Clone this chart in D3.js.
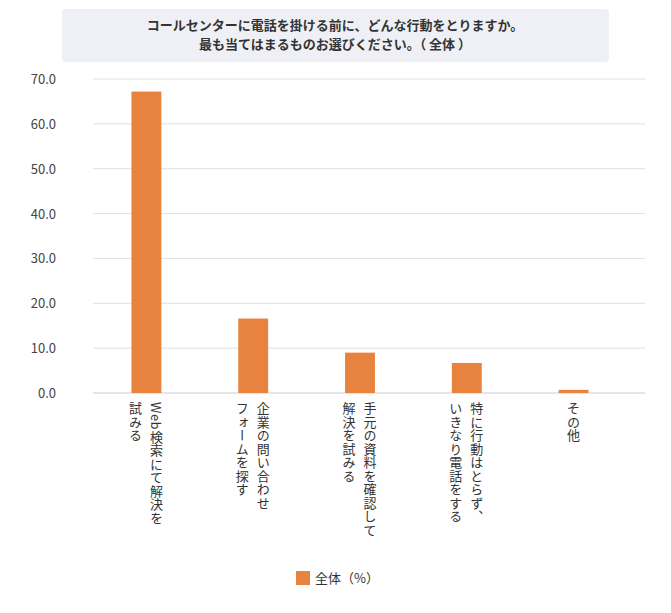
<!DOCTYPE html><html><head><meta charset="utf-8">
<script src="https://cdn.jsdelivr.net/npm/d3@7"></script>
<style>body{margin:0;background:#fff}text{font-family:"Noto Sans CJK JP","Noto Sans",sans-serif}</style></head><body>
<svg id="c" width="671" height="613"></svg>
<script>
const categories=[["Web検索にて解決を","試みる"],["企業の問い合わせ","フォームを探す"],["手元の資料を確認して","解決を試みる"],["特に行動はとらず、","いきなり電話をする"],["その他"]];
const values=[67.2,16.6,9.0,6.7,0.7];
const yTicks=[0,10,20,30,40,50,60,70];
const titleLines=["コールセンターに電話を掛ける前に、どんな行動をとりますか。","最も当てはまるものお選びください。（ 全体 ）"];
const legendLabel="全体（%）";
const svg=d3.select("#c");
svg.append("rect").attr("x",62).attr("y",9).attr("width",547).attr("height",53).attr("rx",4).attr("fill","#eef0f5");
titleLines.forEach((t,i)=>svg.append("text").attr("x",335).attr("y",30+i*19).attr("text-anchor","middle").attr("font-size",13).attr("font-weight","bold").attr("fill","#333").text(t));
const x=d3.scaleBand().domain(d3.range(5)).range([93,627]).paddingInner(0.72).paddingOuter(0.36);
const y=d3.scaleLinear().domain([0,70]).range([393,79]);
const g=svg.append("g");
yTicks.forEach(t=>{
  g.append("line").attr("x1",93).attr("x2",645).attr("y1",y(t)).attr("y2",y(t)).attr("stroke",t==0?"#ccc":"#e0e0e0");
  g.append("text").attr("x",56).attr("y",y(t)+5).attr("text-anchor","end").attr("font-size",13).attr("fill","#444").text(t.toFixed(1));
});
g.selectAll("rect.b").data(values).join("rect").attr("class","b").attr("x",(d,i)=>x(i)).attr("width",x.bandwidth()).attr("y",d=>y(d)).attr("height",d=>y(0)-y(d)).attr("fill","#e8833f");
categories.forEach((lines,i)=>{
  const cx=x(i)+x.bandwidth()/2;
  const n=lines.length;
  lines.forEach((l,j)=>{
    const off=n==1?0:(j==0?10:-11);
    svg.append("text").attr("x",cx+off).attr("y",402).attr("font-size",13).attr("fill","#333")
      .style("writing-mode","vertical-rl").style("letter-spacing","0.5px").text(l);
  });
});
svg.append("rect").attr("x",296).attr("y",571).attr("width",14).attr("height",14).attr("fill","#e8833f");
svg.append("text").attr("x",315).attr("y",583).attr("font-size",13).attr("fill","#333").text(legendLabel);
</script></body></html>
